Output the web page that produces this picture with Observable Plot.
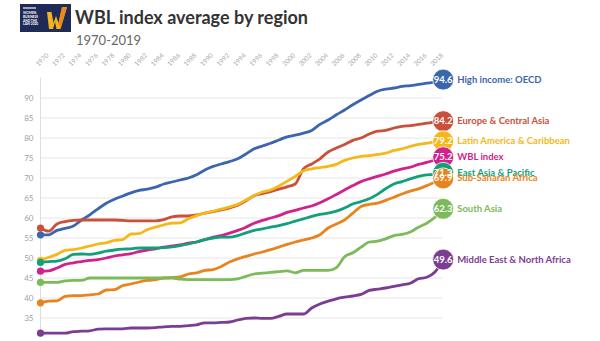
<!DOCTYPE html>
<html>
<head>
<meta charset="utf-8">
<script src="https://cdn.jsdelivr.net/npm/d3@7"></script>
<script src="https://cdn.jsdelivr.net/npm/@observablehq/plot@0.6"></script>
<style>
  html, body { margin: 0; padding: 0; background: #fff; }
  #page { position: relative; width: 600px; height: 341px; overflow: hidden; font-family: Lato, "Open Sans", sans-serif; }
  #header { position: relative; height: 48px; }
  #logo { position: absolute; left: 20px; top: 4px; width: 51px; height: 28px; background: #1f2b57; }
  #logo .t { position: absolute; left: 3px; top: 8px; color: #fff; font: bold 3.2px/3.8px Lato, sans-serif; }
  #logo .s { position: absolute; left: 3px; top: 3px; width: 13px; height: 1.5px; background: #9aa4c4; }
  #logo svg { position: absolute; left: 26px; top: 2px; }
  #title { position: absolute; left: 75px; top: 7.5px; font: bold 18px/19px Lato, sans-serif; color: #333; white-space: nowrap; }
  #subtitle { position: absolute; left: 76px; top: 33px; font: 13px/14px Lato, sans-serif; color: #666; white-space: nowrap; }
</style>
</head>
<body>
<div id="page">
  <div id="header">
    <div id="logo">
      <div class="s"></div>
      <div class="t">WOMEN,<br>BUSINESS<br>AND THE<br>LAW 2020</div>
      <svg width="23" height="24" viewBox="0 0 23 24">
        <polygon points="1,6 5.5,6 7.5,17 10,10 12.5,17 16,1 21,1 14.5,23 10.5,23 9,16 7,23 3,23" fill="#f6b21b"/>
        <polygon points="16,1 21,1 14.5,23 12.5,17" fill="#e98a1c"/>
      </svg>
    </div>
    <div id="title">WBL index average by region</div>
    <div id="subtitle">1970-2019</div>
  </div>
  <div id="chart"></div>
</div>
<script>
const years = [1970,1971,1972,1973,1974,1975,1976,1977,1978,1979,1980,1981,1982,1983,1984,1985,1986,1987,1988,1989,
  1990,1991,1992,1993,1994,1995,1996,1997,1998,1999,2000,2001,2002,2003,2004,2005,2006,2007,2008,2009,
  2010,2011,2012,2013,2014,2015,2016,2017,2018,2019];

const regions = ["High income: OECD", "Europe & Central Asia", "Latin America & Caribbean", "WBL index",
  "East Asia & Pacific", "Sub-Saharan Africa", "South Asia", "Middle East & North Africa"];

const colors = ["#3b66ae", "#c9503b", "#f4b81a", "#d0228c", "#11a079", "#e8841d", "#7cba5a", "#7a3d92"];

const oecd = [55.8,55.8,56.9,57.4,58.0,59.5,60.8,62.3,63.7,64.7,65.5,66.3,66.9,67.2,67.7,68.5,69.0,69.5,70.0,70.8,
  72.0,72.9,73.5,74.1,74.8,76.0,77.3,78.0,78.7,79.5,80.3,80.7,81.2,81.9,83.4,84.5,85.8,87.0,88.3,89.5,
  90.6,91.7,92.2,92.5,92.9,93.1,93.4,93.7,94.0,94.6];
const eca = [57.5,56.7,58.5,59.1,59.4,59.5,59.5,59.5,59.5,59.5,59.4,59.3,59.3,59.3,59.3,59.6,60.3,60.5,60.5,60.8,
  61.2,61.6,62.0,62.5,63.2,64.3,65.6,66.1,66.6,67.2,67.8,68.5,72.3,73.5,74.8,76.5,77.5,78.4,79.4,80.0,
  81.0,81.7,81.9,82.5,82.9,83.1,83.4,83.7,84.0,84.2];
const lac = [49.4,50.2,50.9,51.9,52.1,52.5,53.0,53.5,53.8,54.4,54.6,56.0,56.1,57.1,57.7,58.3,58.7,58.8,59.8,60.6,
  61.2,61.7,62.2,62.8,63.4,64.5,65.6,66.5,67.0,68.0,69.2,70.4,71.8,72.3,72.6,72.9,73.4,74.4,75.0,75.4,
  75.6,75.9,76.2,76.9,77.3,77.9,78.4,78.7,79.0,79.2];
const wbl = [46.7,46.8,47.5,48.4,48.8,49.1,49.4,49.6,50.0,50.5,50.8,51.1,51.6,52.0,52.3,52.7,53.0,53.3,53.7,54.0,
  54.6,55.2,55.6,56.2,56.9,57.7,58.7,59.4,60.0,60.6,61.4,61.9,62.5,63.0,63.8,64.8,65.9,67.0,68.1,69.1,
  69.8,70.4,71.0,71.7,72.3,72.7,73.4,73.9,74.5,75.2];
const eap = [48.9,49.1,49.2,49.8,50.9,51.0,50.9,51.2,51.7,52.0,52.2,52.3,52.5,52.5,52.5,52.6,52.8,53.1,53.5,54.0,
  54.6,55.0,55.2,55.2,55.6,56.3,56.9,57.3,57.7,58.1,58.6,59.2,59.8,60.4,60.9,61.2,61.7,62.5,63.5,64.1,
  64.8,65.9,67.3,68.5,69.1,69.8,70.4,70.8,70.9,71.3];
const ssa = [38.8,39.2,39.3,40.4,40.6,40.6,40.8,41.0,42.0,42.1,43.1,43.5,44.0,44.4,44.6,45.0,45.1,45.3,46.0,46.3,
  46.9,47.1,47.9,49.0,49.8,50.4,51.0,51.5,52.1,52.7,53.4,54.0,54.5,55.0,55.8,57.5,58.5,59.5,61.2,62.9,
  63.4,63.7,64.4,65.2,66.0,66.7,67.3,68.1,69.0,69.9];
const sar = [43.9,43.9,43.9,44.3,44.4,44.4,45.0,45.0,45.0,45.0,45.0,45.0,45.0,45.0,45.0,45.0,45.0,44.7,44.6,44.6,
  44.6,44.6,44.6,44.6,44.8,45.4,46.0,46.2,46.4,46.6,46.8,46.3,46.9,46.9,46.9,46.9,47.6,50.3,51.3,52.7,
  54.0,54.2,54.8,55.6,55.9,56.5,57.7,58.7,60.2,62.3];
const mena = [31.2,31.2,31.2,31.2,31.6,31.7,31.8,32.2,32.3,32.3,32.3,32.5,32.5,32.5,32.6,32.8,32.9,32.9,33.1,33.3,
  33.8,33.8,33.9,34.0,34.5,34.9,35.0,34.9,34.9,35.4,36.0,36.0,36.0,37.5,38.5,39.2,39.8,40.2,40.5,40.9,
  41.9,42.2,42.5,42.9,43.3,43.7,44.8,45.2,46.5,49.6];

const yTicks = [35,40,45,50,55,60,65,70,75,80,85,90];
const xTicks = [1970,1972,1974,1976,1978,1980,1982,1984,1986,1988,1990,1992,1994,1996,1998,2000,2002,2004,2006,2008,2010,2012,2014,2016,2018];

const seriesValues = [oecd, eca, lac, wbl, eap, ssa, sar, mena];
const rows = [];
seriesValues.forEach((vals, i) => vals.forEach((v, j) => rows.push({region: regions[i], year: years[j], value: v})));
const firstRows = regions.map((r, i) => ({region: r, year: years[0], value: seriesValues[i][0]}));
const lastRows = regions.map((r, i) => ({region: r, year: years[years.length - 1], value: seriesValues[i][years.length - 1]}));

const chart = Plot.plot({
  width: 600,
  height: 293,
  marginLeft: 40,
  marginRight: 157.3,
  marginTop: 29.5,
  marginBottom: 3.5,
  x: {domain: [1970, 2019], axis: null},
  y: {domain: [30, 95], axis: null},
  color: {domain: regions, range: colors},
  style: {fontFamily: "Lato, sans-serif", background: "transparent", overflow: "visible"},
  marks: [
    Plot.ruleY(yTicks, {y: d => d, x1: 1970, x2: 2019, stroke: "#e6e6e6", strokeWidth: 1}),
    Plot.ruleX([1970], {y1: 30, y2: 95, stroke: "#dedede", strokeWidth: 1}),
    Plot.text(yTicks, {y: d => d, text: d => String(d), frameAnchor: "left", dx: -7, textAnchor: "end", fontSize: 8, fill: "#a0a0a0"}),
    Plot.text(xTicks, {x: d => d, text: d => String(d), frameAnchor: "top", dy: -20, rotate: -45, textAnchor: "middle", fontSize: 6.5, fill: "#aaaaaa"}),
    Plot.line(rows, {x: "year", y: "value", z: "region", stroke: "region", strokeWidth: 2.8, curve: "monotone-x"}),
    Plot.dot(firstRows, {x: "year", y: "value", fill: "region", r: 3.6}),
    Plot.dot(lastRows, {x: "year", y: "value", fill: "region", r: 10.5, stroke: "white", strokeWidth: 0.8}),
    Plot.text(lastRows, {x: "year", y: "value", text: d => d.value.toFixed(1), fill: "white", fontWeight: "bold", fontSize: 9.5}),
    Plot.text(lastRows, {x: "year", y: "value", text: "region", fill: "region", fontWeight: "bold", fontSize: 9.5, textAnchor: "start", dx: 14})
  ]
});
document.getElementById("chart").appendChild(chart);
</script>
</body>
</html>
